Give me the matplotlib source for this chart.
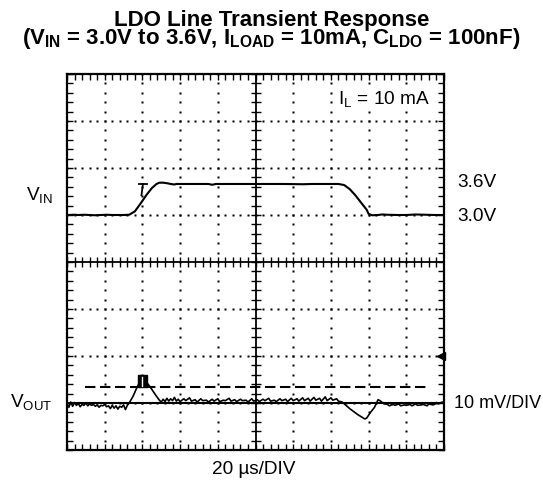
import numpy as np
import matplotlib
matplotlib.use("Agg")
import matplotlib.pyplot as plt
from matplotlib.patches import Rectangle

plt.rcParams['font.family'] = ['Liberation Sans', 'DejaVu Sans']
plt.rcParams['mathtext.fontset'] = 'custom'
plt.rcParams['mathtext.rm'] = 'Liberation Sans'
plt.rcParams['mathtext.bf'] = 'Liberation Sans:bold'
plt.rcParams['mathtext.it'] = 'Liberation Sans:italic'

# scope settings
TIME_DIV = 20.0          # us/DIV
VOUT_DIV = 10.0          # mV/DIV
VIN_OFFSET = 1.0         # div where 3.0 V sits
VIN_SCALE = 1.1          # div per volt
VOUT_OFFSET = -3.0       # div of the VOUT baseline
TRIG_T = 40.0            # us
GND_MARK = -2.0          # div, channel marker at right edge
LIMIT_MV = 3.4           # dashed level, mV
LIMIT_T = (9.5, 190.5)
LABEL_FS = 13.7

# VIN trace (us, V)
vin_t = [0, 4, 6, 9, 12, 15, 18, 21, 24, 27, 30, 33, 36, 39, 42, 45, 47.5,
         49, 51, 53, 55, 57, 58, 62, 68, 75, 77, 79, 85, 95, 105, 115, 125,
         130, 135, 140, 144, 147, 150, 153, 156, 159, 160, 162, 165, 167,
         170, 175, 180, 185, 190, 195, 200]
vin_v = [3.0, 3.005, 3.0, 3.005, 3.0, 2.995, 3.0, 3.005, 3.0, 3.0, 3.0, 3.005,
         3.07, 3.22, 3.38, 3.52, 3.6, 3.625, 3.625, 3.615, 3.6, 3.59, 3.6,
         3.6, 3.6, 3.6, 3.585, 3.6, 3.6, 3.6, 3.6, 3.6, 3.595, 3.6, 3.6,
         3.6, 3.6, 3.58, 3.5, 3.38, 3.24, 3.1, 3.02, 2.995, 3.0, 3.01,
         3.005, 3.0, 3.0, 3.01, 3.005, 3.0, 3.0]

# VOUT trace (us, mV relative to baseline)
vout_t = [0, 1, 2, 3, 4, 5, 6, 7, 8, 9, 10, 11, 12, 13, 14, 15, 16, 17, 18,
          19, 20, 21, 22, 23, 24, 25, 26, 27, 28, 29, 30, 31, 32, 33,
          35, 37, 39, 40, 41, 43, 45, 47, 49, 50,
          51, 52, 53, 54, 55, 56, 57, 58, 59, 60, 62, 63, 65, 66, 68, 69,
          71, 72, 74, 75, 77, 78, 80, 81, 83, 84, 86, 87, 89, 90, 92, 93,
          95, 96, 98, 99, 101, 102, 104, 105, 107, 108, 110, 111, 113, 114,
          116, 117, 119, 120, 122, 123, 125, 126, 128, 129, 131, 132, 134,
          135, 137, 138, 140, 141, 143, 144, 146,
          148, 150, 152, 154, 156, 158, 159, 160, 161, 163, 164, 165, 166,
          167, 168, 170, 171, 173, 174, 176, 177, 179, 180, 182, 183, 185,
          186, 188, 189, 191, 192, 194, 195, 196, 197, 198, 199, 200]
vout_mv = [-0.2, -0.9, 0.2, -0.7, 0.1, -0.5, -0.1, -0.8, -0.3, -0.5, 0.0,
           -0.6, -0.2, -0.5, -0.3, -0.7, -0.4, -0.9, -0.5, -0.6, -0.3, -0.8,
           -0.6, -1.2, -0.5, -1.1, -0.6, -1.3, -0.7, -0.9, -0.4, -1.4, -0.5,
           0.0,
           1.4, 3.2, 4.8, 5.3, 5.0, 4.0, 2.9, 1.7, 0.6, 0.2,
           0.8, 0.3, 1.0, 0.4, 0.9, 0.5, 1.2, 0.4, 0.8, 0.3, 0.9, 0.5, 1.1,
           0.4, 0.7, 0.2, 0.9, 0.5, 0.6, 0.2, 0.8, 0.4, 0.9, 0.3, 0.6, 0.5,
           1.0, 0.4, 0.7, 0.3, 0.8, 0.5, 0.6, 0.2, 0.9, 0.4, 0.7, 0.3, 0.8,
           0.5, 1.0, 0.4, 0.6, 0.3, 0.9, 0.5, 0.8, 0.3, 1.0, 0.5, 0.9, 0.4,
           1.1, 0.5, 1.0, 0.4, 1.2, 0.6, 1.0, 0.4, 1.3, 0.5, 1.1, 0.6, 0.9,
           0.4, 0.2,
           -0.5, -1.2, -1.8, -2.4, -2.9, -3.4, -3.2, -2.6, -2.0, -1.0, -0.2,
           0.7, 0.5, 0.2, -0.1, -0.3, -0.6, -0.3, -0.5, -0.2, -0.6, -0.4,
           -0.5, -0.3, -0.6, -0.2, -0.5, -0.4, -0.3, -0.6, -0.2, -0.4,
           -0.3, 0.1, -0.2, 0.0, 0.2, -0.1]

fig = plt.figure(figsize=(5.43, 4.83), dpi=100)
ax = fig.add_axes([67 / 543, 33 / 483, 377 / 543, 376 / 483])
ax.set_xlim(0, 10 * TIME_DIV)
ax.set_ylim(-4, 4)

for s in ax.spines.values():
    s.set_linewidth(1.6)
ax.set_xticks(np.arange(0, 10 * TIME_DIV + 0.1, TIME_DIV / 5))
ax.set_yticks(np.arange(-4, 4.01, 0.2))
ax.tick_params(direction='in', length=4, width=1, top=True, right=True,
               labelbottom=False, labelleft=False)

# dotted graticule
minor_x = np.arange(0, 10 * TIME_DIV + 0.1, TIME_DIV / 5)
minor_y = np.arange(-4, 4.01, 0.2)
for k in range(1, 10):
    if k != 5:
        ax.plot(np.full_like(minor_y, k * TIME_DIV), minor_y, ls='none',
                marker='s', ms=1.8, mec='none', color='black')
for k in (-3, -2, -1, 1, 2, 3):
    ax.plot(minor_x, np.full_like(minor_x, k), ls='none', marker='s',
            ms=1.8, mec='none', color='black')

# center axes with cross ticks
ax.axhline(0, color='black', lw=1.3)
ax.axvline(5 * TIME_DIV, color='black', lw=1.3)
ax.plot(minor_x, np.zeros_like(minor_x), ls='none', marker='|', ms=7,
        mew=1, color='black')
ax.plot(np.full_like(minor_y, 5 * TIME_DIV), minor_y, ls='none', marker='_',
        ms=7, mew=1, color='black')

# traces
vin_y = VIN_OFFSET + (np.array(vin_v) - 3.0) * VIN_SCALE
ax.plot(vin_t, vin_y, color='black', lw=1.5)
ax.axhline(VOUT_OFFSET, color='black', lw=1.5)
vout_y = VOUT_OFFSET + np.array(vout_mv) / VOUT_DIV
ax.plot(vout_t, vout_y, color='black', lw=1.2)
ax.plot(LIMIT_T, [VOUT_OFFSET + LIMIT_MV / VOUT_DIV] * 2, color='black',
        lw=1.5, dashes=(5, 2.2))

# trigger marks
ax.plot([TRIG_T - 2, TRIG_T + 2.5], [1.66, 1.66], color='black', lw=1.3)
ax.plot([TRIG_T + 0.3, TRIG_T - 0.5], [1.66, 1.42], color='black', lw=1.3)
ax.add_patch(Rectangle((TRIG_T - 2.4, VOUT_OFFSET + 0.33), 4.8, 0.27,
                       color='black', zorder=5))
ax.plot([TRIG_T, TRIG_T], [VOUT_OFFSET + 0.37, VOUT_OFFSET + 0.56],
        color='white', lw=1, zorder=6)
ax.plot([10 * TIME_DIV - 1.8], [GND_MARK], marker='<', ms=5.5, color='black',
        clip_on=False)

# text
fig.text(0.5, 1 - 44 / 483,
         'LDO Line Transient Response\n'
         r'(V$_{\mathbf{IN}}$ = 3.0V to 3.6V, I$_{\mathbf{LOAD}}$ = 10mA, '
         r'C$_{\mathbf{LDO}}$ = 100nF)',
         ha='center', va='baseline', ma='center', fontsize=16,
         fontweight='bold', linespacing=0.72)
fig.text(53 / 543, 1 - 200 / 483, r'V$_{\mathrm{IN}}$', ha='right',
         va='baseline', fontsize=LABEL_FS)
fig.text(53 / 543, 1 - 407 / 483, r'V$_{\mathrm{OUT}}$', ha='right',
         va='baseline', fontsize=LABEL_FS)
fig.text(457 / 543, 1 - 187 / 483, '3.6V', ha='left', va='baseline',
         fontsize=LABEL_FS)
fig.text(457 / 543, 1 - 221 / 483, '3.0V', ha='left', va='baseline',
         fontsize=LABEL_FS)
fig.text(454 / 543, 1 - 408 / 483, '10 mV/DIV', ha='left', va='baseline',
         fontsize=13)
fig.text(254 / 543, 1 - 474 / 483, '20 µs/DIV', ha='center', va='baseline',
         fontsize=LABEL_FS)
fig.text(338 / 543, 1 - 104 / 483, r'I$_{\mathrm{L}}$ = 10 mA', ha='left',
         va='baseline', fontsize=LABEL_FS,
         bbox=dict(facecolor='white', edgecolor='none', pad=1.5))

fig.savefig('out.png', dpi=100)
